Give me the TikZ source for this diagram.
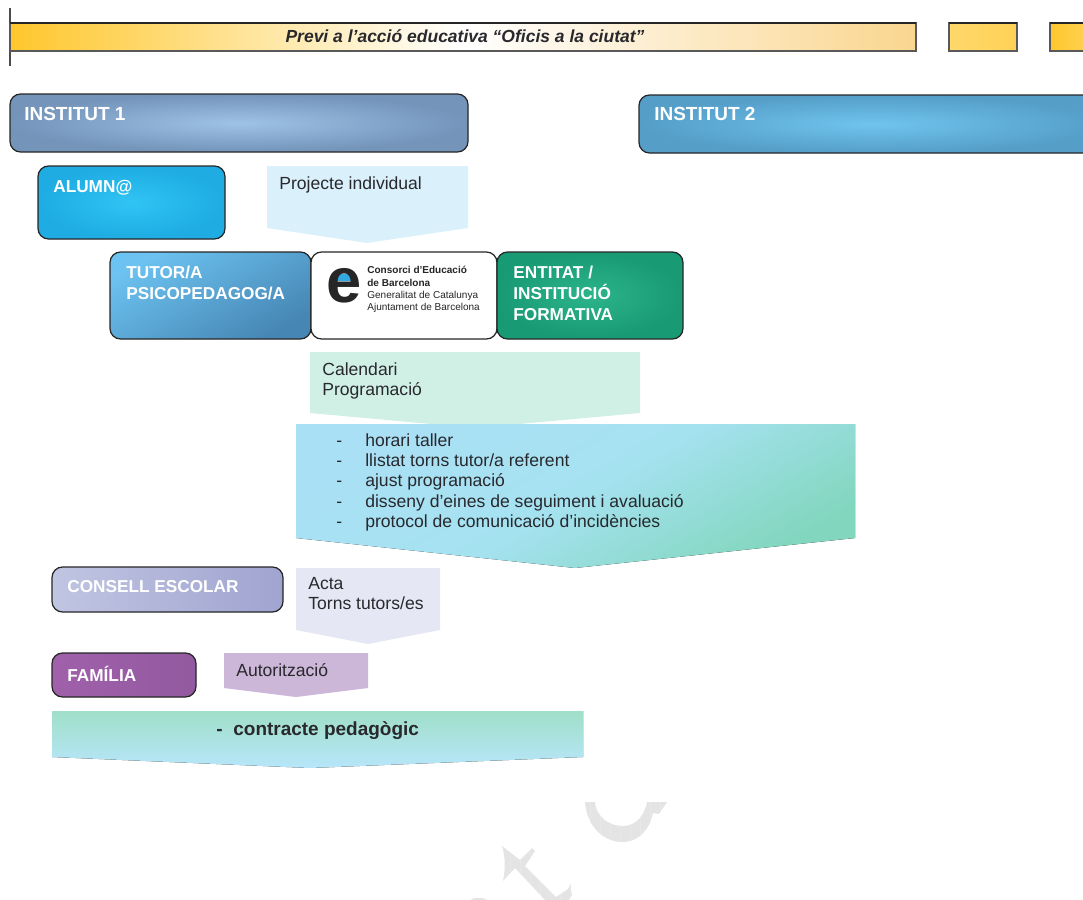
\documentclass[tikz,border=0pt]{standalone}
\usepackage{fontspec}
\setmainfont{Liberation Sans}
\usetikzlibrary{positioning,calc}
\def\pxu{0.02cm}
\definecolor{barcolor}{RGB}{255, 199, 44}
\definecolor{barendcolor}{RGB}{250, 214, 143}
\definecolor{inkcolor}{RGB}{40, 40, 45}
\definecolor{wmarkcolor}{RGB}{228, 228, 228}

\begin{document}
\begin{tikzpicture}[
    x=0.02cm, y=-0.02cm,
    barbox/.style={rectangle, draw=black!65, line width=0.6pt, inner sep=0pt, outer sep=0pt, anchor=north west, minimum height=28*\pxu},
    actor/.style={rectangle, draw=black!85, line width=0.7pt, rounded corners=6pt, inner sep=0pt, outer sep=0pt, anchor=north west},
    head/.style={anchor=north west, inner sep=0pt, align=left, text=white, font=\fontsize{9.8}{11.9}\selectfont\bfseries},
    note/.style={anchor=north west, inner sep=0pt, align=left, text=inkcolor, font=\fontsize{10}{11.6}\selectfont},
    wmark/.style={fill=wmarkcolor}
]
    \path[use as bounding box, clip] (0,0) rectangle (1083,900);

    % Top bar
    \draw[black!70, line width=0.6pt] (10,8) coordinate (tick) -- (10,66);
    \node[barbox, minimum width=906*\pxu, left color=barcolor, right color=barendcolor, middle color=white] (bar) at (10,23) {};
    \draw[black!85, line width=1.1pt] (bar.north west) -- (bar.north east);
    \node[font=\fontsize{9.96}{11.5}\selectfont\bfseries\itshape, text=inkcolor] (bartext) at (465,36) {Previ a l’acció educativa “Oficis a la ciutat”};
    \node[barbox, minimum width=68*\pxu, left color=barcolor!70!white, right color=barcolor!80!white] (barb) at (949,23) {};
    \draw[black!85, line width=1.1pt] (barb.north west) -- (barb.north east);
    \node[barbox, minimum width=60*\pxu, left color=barcolor, right color=barcolor!70!white] (barc) at (1050,23) {};
    \draw[black!85, line width=1.1pt] (barc.north west) -- (barc.north east);

    % Instituts
    \node[actor, minimum width=458*\pxu, minimum height=58*\pxu, inner color={rgb,255:red,158;green,194;blue,230}, outer color={rgb,255:red,116;green,148;blue,186}] (inst1) at (10,94) {};
    \node[head, font=\fontsize{10.8}{12}\selectfont\bfseries] (inst1text) at (24,107) {INSTITUT 1};
    \node[actor, minimum width=470*\pxu, minimum height=58*\pxu, inner color={rgb,255:red,112;green,196;blue,238}, outer color={rgb,255:red,84;green,158;blue,200}] (inst2) at (639,95) {};
    \node[head, font=\fontsize{10.8}{12}\selectfont\bfseries] (inst2text) at (654,107) {INSTITUT 2};

    % Alumne
    \node[actor, minimum width=187*\pxu, minimum height=73*\pxu, inner color={rgb,255:red,48;green,196;blue,244}, outer color={rgb,255:red,30;green,172;blue,226}] (alumne) at (38,166) {};
    \node[head] (alumnetext) at (53,180) {ALUMN@};
    \fill[fill={rgb,255:red,218;green,240;blue,250}] (267,166) -- (468,166) -- (468,228) -- (367,243) -- (267,228) -- cycle;
    \node[note] (projecte) at (279,176) {Projecte individual};

    % Row of three
    \node[actor, minimum width=201*\pxu, minimum height=87*\pxu, left color={rgb,255:red,108;green,194;blue,240}, right color={rgb,255:red,70;green,134;blue,180}, shading angle=30] (tutor) at (110,252) {};
    \node[head] (tutortext) at (126,266) {TUTOR/A\\PSICOPEDAGOG/A};
    \node[actor, minimum width=186*\pxu, minimum height=87*\pxu, fill=white] (logo) at (311,252) {};
    \fill[fill={rgb,255:red,48;green,170;blue,224}] (336,274) rectangle (352,281);
    \node[font=\fontsize{36}{36}\selectfont\bfseries, text=black!85, inner sep=0pt] (logoe) at (344,286) {e};
    \node[anchor=north west, inner sep=0pt, align=left, text=black!85, font=\fontsize{5.7}{7}\selectfont] (logotext) at (367,266) {\textbf{Consorci d’Educació}\\\textbf{de Barcelona}\\Generalitat de Catalunya\\Ajuntament de Barcelona};
    \node[actor, minimum width=186*\pxu, minimum height=87*\pxu, inner color={rgb,255:red,44;green,180;blue,138}, outer color={rgb,255:red,24;green,154;blue,116}] (entitat) at (497,252) {};
    \node[head] (entitattext) at (513,266) {ENTITAT /\\INSTITUCIÓ\\FORMATIVA};

    % Panels
    \fill[fill={rgb,255:red,208;green,240;blue,229}] (310,352) -- (640,352) -- (640,413) -- (475,428) -- (310,413) -- cycle;
    \node[note] (calendari) at (322,362) {Calendari\\Programació};
    \fill[left color={rgb,255:red,170;green,224;blue,245}, right color={rgb,255:red,130;green,214;blue,190}, middle color={rgb,255:red,165;green,226;blue,240}, shading angle=30] (296,424) -- (855,424) -- (855,538) -- (575,568) -- (296,538) -- cycle;
    \node[note] (tasks) at (336,433) {\makebox[16.5pt][l]{-}horari taller\\\makebox[16.5pt][l]{-}llistat torns tutor/a referent\\\makebox[16.5pt][l]{-}ajust programació\\\makebox[16.5pt][l]{-}disseny d’eines de seguiment i avaluació\\\makebox[16.5pt][l]{-}protocol de comunicació d’incidències};

    % Consell escolar
    \node[actor, minimum width=231*\pxu, minimum height=45*\pxu, left color={rgb,255:red,192;green,197;blue,226}, right color={rgb,255:red,160;green,164;blue,208}] (consell) at (52,567) {};
    \node[head] (conselltext) at (67,580) {CONSELL ESCOLAR};
    \fill[fill={rgb,255:red,229;green,231;blue,245}] (296,568) -- (440,568) -- (440,630) -- (368,644) -- (296,630) -- cycle;
    \node[note] (acta) at (308,577) {Acta\\Torns tutors/es};

    % Familia
    \node[actor, minimum width=144*\pxu, minimum height=44*\pxu, left color={rgb,255:red,160;green,96;blue,170}, right color={rgb,255:red,146;green,90;blue,160}] (familia) at (52,653) {};
    \node[head] (familiatext) at (67,666) {FAMÍLIA};
    \fill[fill={rgb,255:red,205;green,183;blue,217}] (224,653) -- (368,653) -- (368,688) -- (296,697) -- (224,688) -- cycle;
    \node[note] (autoritzacio) at (236,663) {Autorització};

    % Contracte
    \fill[top color={rgb,255:red,160;green,223;blue,200}, bottom color={rgb,255:red,183;green,230;blue,250}] (52,711) -- (583,711) -- (583,757) -- (310,768) -- (52,757) -- cycle;
    \node[note, font=\fontsize{10.8}{12}\selectfont\bfseries] (contracte) at (216,721) {\makebox[9.7pt][l]{-}contracte pedagògic};

    % Watermark
    \def\crescent{(585,802) .. controls (587,828) and (605,842) .. (622,842) .. controls (640,842) and (650,828) .. (653,813) -- (659,814) -- (667,802) -- (647,802) .. controls (644,818) and (634,826) .. (623,826) .. controls (608,826) and (596,816) .. (595,802) -- cycle}
    \def\anchorbit{(502,846) -- (520,860) -- (532,848) -- (535,851) -- (525,866) -- (556,897) -- (568,889) .. controls (571,885) and (570,881) .. (570,883) -- (572,895) -- (569,900) -- (545,900) -- (515,868) -- (503,881) .. controls (505,870) and (506,860) .. (502,846) -- cycle}
    \fill[wmark] \crescent;
    \fill[wmark] \anchorbit;
    \fill[wmark] (470,900) .. controls (475,897) and (482,897) .. (488,900) -- cycle;
    \begin{scope}
        \clip \crescent;
        \draw[black!9, line width=0.4pt] (580,800) grid[step=10] (670,850);
    \end{scope}
    \begin{scope}
        \clip \anchorbit;
        \draw[black!9, line width=0.4pt] (500,840) grid[step=10] (580,900);
    \end{scope}
\end{tikzpicture}
\end{document}
